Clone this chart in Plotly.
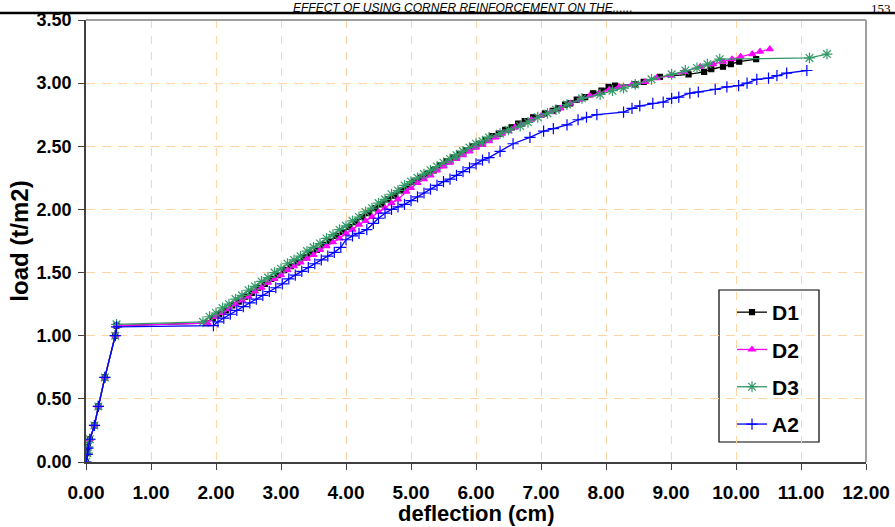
import plotly.graph_objects as go

# ---------------- data ----------------
d1_x = [0.00, 0.02, 0.03, 0.06, 0.13, 0.19, 0.29, 0.45, 0.47, 1.85, 1.95, 2.05, 2.15, 2.25, 2.35, 2.45,
        2.55, 2.65, 2.75, 2.85, 2.95, 3.05, 3.15, 3.25, 3.35, 3.45, 3.55, 3.65, 3.75, 3.85, 3.95,
        4.05, 4.15, 4.25, 4.35, 4.45, 4.55, 4.65, 4.75, 4.85, 4.95, 5.05, 5.15, 5.25, 5.35, 5.45,
        5.55, 5.65, 5.75, 5.85, 5.95, 6.05, 6.15, 6.25, 6.35, 6.45, 6.55, 6.65, 6.75, 6.88, 7.06,
        7.18, 7.26, 7.37, 7.45, 7.55, 7.68, 7.80, 7.93, 8.04, 8.14, 8.45, 8.58, 8.83, 9.27, 9.51,
        9.62, 9.80, 9.92, 10.05, 10.31]
d1_y = [0.00, 0.07, 0.12, 0.18, 0.29, 0.44, 0.67, 1.00, 1.08, 1.10, 1.14, 1.17, 1.20, 1.24, 1.27, 1.31,
        1.34, 1.38, 1.41, 1.45, 1.48, 1.52, 1.55, 1.58, 1.62, 1.65, 1.68, 1.72, 1.75, 1.79, 1.82,
        1.86, 1.90, 1.94, 1.97, 2.01, 2.04, 2.08, 2.11, 2.15, 2.18, 2.22, 2.25, 2.28, 2.31, 2.35,
        2.38, 2.41, 2.44, 2.47, 2.50, 2.52, 2.55, 2.58, 2.60, 2.63, 2.65, 2.68, 2.70, 2.73, 2.76,
        2.78, 2.80, 2.83, 2.84, 2.87, 2.89, 2.92, 2.94, 2.97, 2.98, 2.99, 3.01, 3.05, 3.07, 3.09,
        3.11, 3.13, 3.15, 3.17, 3.19]

d2_x = [0.00, 0.02, 0.03, 0.06, 0.13, 0.19, 0.29, 0.45, 0.47, 1.87, 2.00, 2.10, 2.20, 2.30, 2.40, 2.50,
        2.60, 2.70, 2.80, 2.90, 3.00, 3.10, 3.20, 3.30, 3.40, 3.50, 3.60, 3.70, 3.80, 3.90, 4.00,
        4.10, 4.20, 4.30, 4.40, 4.50, 4.60, 4.70, 4.80, 4.93, 5.00, 5.10, 5.20, 5.30, 5.40, 5.50,
        5.60, 5.70, 5.80, 5.90, 6.00, 6.10, 6.20, 6.30, 6.40, 6.50, 6.60, 6.70, 6.85, 7.00, 7.15,
        7.30, 7.45, 7.60, 7.75, 7.90, 8.05, 8.20, 8.40, 8.60, 8.78, 9.00, 9.20, 9.45, 9.65, 9.80,
        9.94, 10.07, 10.25, 10.37, 10.52]
d2_y = [0.00, 0.07, 0.12, 0.18, 0.29, 0.44, 0.67, 1.00, 1.08, 1.10, 1.15, 1.18, 1.21, 1.25, 1.28, 1.31,
        1.35, 1.38, 1.42, 1.45, 1.48, 1.52, 1.55, 1.58, 1.61, 1.64, 1.68, 1.71, 1.74, 1.77, 1.81,
        1.84, 1.88, 1.91, 1.94, 1.98, 2.01, 2.05, 2.08, 2.14, 2.17, 2.21, 2.24, 2.27, 2.31, 2.34,
        2.37, 2.40, 2.43, 2.46, 2.49, 2.51, 2.54, 2.57, 2.60, 2.62, 2.65, 2.67, 2.71, 2.74, 2.77,
        2.80, 2.84, 2.87, 2.90, 2.92, 2.95, 2.97, 2.99, 3.01, 3.04, 3.06, 3.09, 3.13, 3.15, 3.17,
        3.19, 3.21, 3.23, 3.25, 3.27]

d3_x = [0.00, 0.02, 0.03, 0.06, 0.13, 0.19, 0.29, 0.45, 0.47, 1.80, 1.90, 2.00, 2.10, 2.20, 2.30, 2.40,
        2.50, 2.60, 2.70, 2.80, 2.90, 3.00, 3.10, 3.20, 3.30, 3.40, 3.50, 3.60, 3.70, 3.80, 3.90,
        4.00, 4.10, 4.20, 4.30, 4.40, 4.50, 4.60, 4.70, 4.80, 4.90, 5.00, 5.10, 5.20, 5.30, 5.40,
        5.50, 5.60, 5.70, 5.80, 5.90, 6.00, 6.10, 6.20, 6.37, 6.50, 6.68, 6.80, 6.95, 7.10, 7.23,
        7.40, 7.63, 7.91, 8.10, 8.27, 8.45, 8.70, 9.01, 9.22, 9.40, 9.56, 9.75, 11.13, 11.40]
d3_y = [0.00, 0.07, 0.12, 0.18, 0.29, 0.44, 0.67, 1.00, 1.09, 1.11, 1.15, 1.18, 1.22, 1.25, 1.29, 1.32,
        1.36, 1.39, 1.43, 1.46, 1.50, 1.53, 1.57, 1.60, 1.63, 1.67, 1.70, 1.73, 1.77, 1.80, 1.84,
        1.87, 1.91, 1.94, 1.98, 2.01, 2.05, 2.08, 2.12, 2.15, 2.19, 2.22, 2.25, 2.28, 2.31, 2.34,
        2.37, 2.40, 2.43, 2.46, 2.49, 2.52, 2.54, 2.57, 2.60, 2.63, 2.66, 2.69, 2.73, 2.76, 2.79,
        2.83, 2.88, 2.91, 2.94, 2.96, 2.99, 3.03, 3.07, 3.10, 3.12, 3.15, 3.19, 3.20, 3.23]

a2_x = [0.00, 0.02, 0.03, 0.06, 0.13, 0.19, 0.29, 0.45, 0.47, 1.96, 2.03, 2.12, 2.22, 2.32, 2.42, 2.52,
        2.62, 2.72, 2.82, 2.92, 3.02, 3.12, 3.22, 3.32, 3.42, 3.52, 3.62, 3.72, 3.82, 3.92, 4.00,
        4.10, 4.20, 4.32, 4.42, 4.50, 4.60, 4.70, 4.80, 4.90, 5.00, 5.10, 5.20, 5.30, 5.40, 5.50,
        5.60, 5.70, 5.80, 5.90, 6.00, 6.10, 6.20, 6.37, 6.57, 6.83, 7.04, 7.19, 7.40, 7.57, 7.70,
        7.86, 8.27, 8.40, 8.52, 8.72, 8.88, 9.01, 9.12, 9.29, 9.42, 9.68, 9.86, 10.04, 10.17, 10.32,
        10.50, 10.63, 10.78, 11.09]
a2_y = [0.00, 0.06, 0.11, 0.18, 0.29, 0.44, 0.67, 1.00, 1.07, 1.08, 1.11, 1.14, 1.17, 1.20, 1.23, 1.26,
        1.29, 1.32, 1.35, 1.38, 1.41, 1.45, 1.48, 1.51, 1.54, 1.57, 1.60, 1.63, 1.66, 1.70, 1.76,
        1.79, 1.81, 1.84, 1.89, 1.93, 1.97, 2.00, 2.02, 2.04, 2.07, 2.10, 2.13, 2.16, 2.19, 2.22,
        2.24, 2.27, 2.30, 2.33, 2.36, 2.39, 2.41, 2.46, 2.52, 2.57, 2.62, 2.64, 2.67, 2.71, 2.73,
        2.75, 2.77, 2.80, 2.82, 2.84, 2.85, 2.88, 2.89, 2.92, 2.93, 2.95, 2.97, 2.98, 3.00, 3.03,
        3.04, 3.06, 3.08, 3.10]

series_names = ["D1", "D2", "D3", "A2"]
x_ticks = [0, 1, 2, 3, 4, 5, 6, 7, 8, 9, 10, 11, 12]
y_ticks = [0.0, 0.5, 1.0, 1.5, 2.0, 2.5, 3.0, 3.5]
x_title = "deflection (cm)"
y_title = "load (t/m2)"
header_text = "EFFECT OF USING CORNER REINFORCEMENT ON THE......"
page_number = "153"

# ---------------- figure ----------------
W, H = 895, 527
ML, MR, MT, MB = 86, 29, 20, 65
PW, PH = W - ML - MR, H - MT - MB


def px_x(p):  # pixel column -> paper x
    return (p - ML) / PW


def px_y(p):  # pixel row -> paper y
    return (H - MB - p) / PH


styles = [
    dict(color="#000000", symbol="square", size=5, lw=1.3),
    dict(color="#FF00FF", symbol="triangle-up", size=6, lw=1.3),
    dict(color="#339966", symbol="asterisk-open", size=9, lw=1.3),
    dict(color="#0000FF", symbol="cross-thin-open", size=8, lw=1.3),
]
data = [(d1_x, d1_y), (d2_x, d2_y), (d3_x, d3_y), (a2_x, a2_y)]

fig = go.Figure()
for name, (xs, ys), st in zip(series_names, data, styles):
    fig.add_trace(go.Scatter(
        x=xs, y=ys, name=name, mode="lines+markers", legendgroup=name,
        line=dict(color=st["color"], width=st["lw"]),
        marker=dict(symbol=st["symbol"], size=st["size"], color=st["color"],
                    line=dict(color=st["color"], width=1.2)),
    ))

grid_col = "#FFD3A6"
axis_font = dict(family="Liberation Sans, Arial, sans-serif", color="#000000")

fig.update_layout(
    width=W, height=H,
    margin=dict(l=ML, r=MR, t=MT, b=MB, pad=0, autoexpand=False),
    paper_bgcolor="white", plot_bgcolor="white",
    showlegend=True,
    legend=dict(
        x=px_x(732), y=px_y(292), xanchor="left", yanchor="top",
        bgcolor="rgba(0,0,0,0)", borderwidth=0,
        font=dict(family="Liberation Sans, Arial, sans-serif", size=21, color="#000000", weight="bold"),
        tracegroupgap=7,
    ),
    xaxis=dict(
        range=[0, 12], tickvals=x_ticks, tickformat=".2f", automargin=False,
        showgrid=True, gridcolor=grid_col, gridwidth=1, griddash="8px,8px",
        zeroline=False, showline=True, linecolor="#404040", linewidth=1.5,
        ticks="outside", ticklen=6, tickcolor="#404040", tickwidth=1,
        ticklabelstandoff=6,
        tickfont=dict(size=19, weight="bold", **axis_font),
    ),
    yaxis=dict(
        range=[0, 3.5], tickvals=y_ticks, tickformat=".2f", automargin=False,
        showgrid=True, gridcolor=grid_col, gridwidth=1, griddash="9px,7px",
        zeroline=False, showline=True, linecolor="#404040", linewidth=1.5,
        ticks="outside", ticklen=6, tickcolor="#404040", tickwidth=1,
        ticklabelstandoff=3,
        tickfont=dict(size=18, weight="bold", **axis_font),
        title=dict(text=y_title, font=dict(size=24, weight="bold", **axis_font), standoff=1),
    ),
)

# x-axis title placed precisely below the tick labels
fig.add_annotation(xref="paper", yref="paper", x=px_x(476), y=px_y(527),
                   xanchor="center", yanchor="bottom", showarrow=False, text=x_title,
                   borderpad=0,
                   font=dict(size=22, weight="bold", **axis_font))

# plot-area border (top and right) in gray
fig.add_shape(type="line", xref="paper", yref="paper", x0=0, x1=1, y0=1, y1=1,
              line=dict(color="#A0A0A0", width=2))
fig.add_shape(type="line", xref="paper", yref="paper", x0=1, x1=1, y0=0, y1=1,
              line=dict(color="#A0A0A0", width=2))

# legend frame (white box with black border, above grid, below traces)
fig.add_shape(type="rect", xref="paper", yref="paper", layer="between",
              x0=px_x(719), x1=px_x(819), y0=px_y(442), y1=px_y(290),
              fillcolor="white", line=dict(color="#000000", width=1.2))

# page header: thick rule, italic running title and page number
fig.add_shape(type="line", xref="paper", yref="paper",
              x0=px_x(0), x1=px_x(W), y0=px_y(13), y1=px_y(13),
              line=dict(color="#000000", width=2.5))
fig.add_annotation(xref="paper", yref="paper", x=px_x(463), y=px_y(0),
                   xanchor="center", yanchor="top", showarrow=False, text=header_text,
                   borderpad=0,
                   font=dict(family="Liberation Sans, Arial, sans-serif", size=12,
                             style="italic", color="#000000"))
fig.add_annotation(xref="paper", yref="paper", x=px_x(892), y=px_y(0),
                   xanchor="right", yanchor="top", showarrow=False, text=page_number,
                   borderpad=0,
                   font=dict(family="Liberation Serif, Times New Roman, serif", size=13,
                             color="#000000"))

fig.write_html("out.html")
